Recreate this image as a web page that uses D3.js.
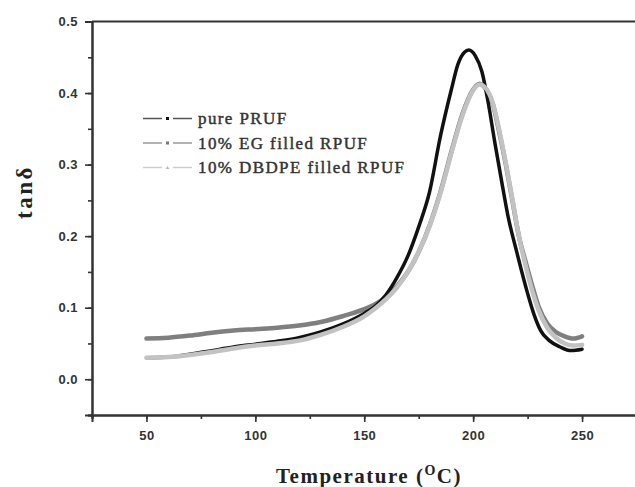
<!DOCTYPE html>
<html>
<head>
<meta charset="utf-8">
<script src="https://cdn.jsdelivr.net/npm/d3@7"></script>
<style>
  body { margin: 0; background: #fff; }
  svg { display: block; }
</style>
</head>
<body>
<div class="chart"></div>
<script>
// temperature (°C) and tan delta
const tempPure = [50, 60, 70, 80, 90, 100, 110, 120, 130, 140, 150, 155, 160, 165, 170, 175, 180, 185, 190, 193, 196, 198, 201, 204, 207, 210, 213, 216, 220, 225, 228, 231, 235, 240, 245, 250];
const tanPure  = [0.030, 0.031, 0.035, 0.040, 0.045, 0.049, 0.053, 0.058, 0.066, 0.077, 0.092, 0.102, 0.118, 0.142, 0.172, 0.213, 0.262, 0.340, 0.405, 0.440, 0.457, 0.460, 0.452, 0.430, 0.385, 0.330, 0.278, 0.228, 0.178, 0.120, 0.090, 0.068, 0.054, 0.045, 0.040, 0.042];

const tempEG = [50, 60, 70, 80, 90, 100, 110, 120, 130, 140, 150, 155, 160, 165, 170, 175, 180, 185, 190, 195, 200, 203, 206, 209, 212, 215, 218, 221, 224, 227, 230, 234, 238, 242, 246, 250];
const tanEG  = [0.057, 0.058, 0.061, 0.065, 0.068, 0.070, 0.072, 0.075, 0.080, 0.088, 0.098, 0.105, 0.115, 0.130, 0.150, 0.178, 0.215, 0.262, 0.318, 0.370, 0.405, 0.413, 0.405, 0.385, 0.345, 0.300, 0.250, 0.200, 0.165, 0.132, 0.102, 0.078, 0.066, 0.060, 0.057, 0.060];

const tempDB = [50, 60, 70, 80, 90, 100, 110, 120, 130, 140, 150, 155, 160, 165, 170, 175, 180, 185, 190, 195, 200, 203, 206, 209, 212, 215, 218, 221, 224, 227, 230, 234, 238, 242, 246, 250];
const tanDB  = [0.030, 0.031, 0.034, 0.038, 0.043, 0.047, 0.050, 0.054, 0.062, 0.073, 0.088, 0.099, 0.112, 0.128, 0.150, 0.178, 0.214, 0.260, 0.316, 0.368, 0.404, 0.412, 0.406, 0.386, 0.348, 0.302, 0.252, 0.200, 0.160, 0.125, 0.097, 0.072, 0.058, 0.050, 0.047, 0.048];

const seriesNames = ["pure PRUF", "10% EG filled RPUF", "10% DBDPE filled RPUF"];
const xTicks = [50, 100, 150, 200, 250];
const yTicks = [0.0, 0.1, 0.2, 0.3, 0.4, 0.5];

const outerWidth = 635;
const outerHeight = 487;
const margin = {top: 21.5, left: 92, bottom: 72, right: -1.5};
const width = outerWidth - margin.left - margin.right;
const height = outerHeight - margin.top - margin.bottom;

const svg = d3.select(".chart")
    .append("svg")
    .attr("width", outerWidth)
    .attr("height", outerHeight)
    .append("g")
    .attr("transform", `translate(${margin.left}, ${margin.top})`);

const xScale = d3.scaleLinear().domain([25, 275]).range([0, width]);
const yScale = d3.scaleLinear().domain([-0.05, 0.5]).range([height, 0]);

// minor ticks
const xMinor = d3.axisBottom(xScale).tickValues(d3.range(25, 276, 25)).tickSize(4).tickFormat("");
const yMinor = d3.axisLeft(yScale).tickValues(d3.range(-0.05, 0.51, 0.05)).tickSize(4).tickFormat("");

svg.append("g").attr("class", "axis minor")
    .attr("transform", `translate(0, ${height})`)
    .call(xMinor);
svg.append("g").attr("class", "axis minor").call(yMinor);

const xAxis = d3.axisBottom(xScale).tickValues(xTicks).tickSize(7).tickPadding(9);
const yAxis = d3.axisLeft(yScale).tickValues(yTicks).tickSize(7).tickPadding(7).tickFormat(d3.format(".1f"));

svg.append("g").attr("class", "axis x")
    .attr("transform", `translate(0, ${height})`)
    .call(xAxis);
svg.append("g").attr("class", "axis y").call(yAxis);

// top frame line
svg.append("line")
    .attr("x1", 0).attr("x2", width)
    .attr("y1", 0).attr("y2", 0)
    .attr("stroke", "#333").attr("stroke-width", 2);

svg.selectAll(".axis path").attr("stroke", "#333").attr("stroke-width", 2);
svg.selectAll(".axis line").attr("stroke", "#333").attr("stroke-width", 1.6);
svg.selectAll(".axis text")
    .attr("font-family", "Liberation Sans, Arial, sans-serif")
    .attr("font-weight", "bold")
    .attr("font-size", 13)
    .attr("letter-spacing", 0.5)
    .attr("fill", "#333");

const line = d3.line()
    .x(d => xScale(d[0]))
    .y(d => yScale(d[1]))
    .curve(d3.curveMonotoneX);

const curves = [
    {t: tempEG, v: tanEG, color: "#7f7f7f", w: 4.5},
    {t: tempPure, v: tanPure, color: "#111", w: 3.5},
    {t: tempDB, v: tanDB, color: "#c2c2c2", w: 4.5}
];

curves.forEach(c => {
    svg.append("path")
        .datum(d3.zip(c.t, c.v))
        .attr("fill", "none")
        .attr("stroke", c.color)
        .attr("stroke-width", c.w)
        .attr("stroke-linejoin", "round")
        .attr("stroke-linecap", "round")
        .attr("d", line);
});

// legend
const legendColors = ["#555", "#999", "#ccc"];
const markerColors = ["#111", "#777", "#bbb"];
const legend = svg.append("g").attr("transform", "translate(51, 97)");
seriesNames.forEach((name, i) => {
    const g = legend.append("g").attr("transform", `translate(0, ${i * 24.5})`);
    g.append("line").attr("x1", 0).attr("x2", 19).attr("y1", 0).attr("y2", 0)
        .attr("stroke", legendColors[i]).attr("stroke-width", 1.5);
    g.append("line").attr("x1", 30).attr("x2", 49).attr("y1", 0).attr("y2", 0)
        .attr("stroke", legendColors[i]).attr("stroke-width", 1.5);
    if (i < 2) {
        g.append("rect").attr("x", 23).attr("y", -1.5).attr("width", 3).attr("height", 3)
            .attr("fill", markerColors[i]);
    } else {
        g.append("path").attr("d", "M22.5,1.5L24.5,-1.5L26.5,1.5Z").attr("fill", markerColors[i]);
    }
    g.append("text")
        .attr("x", 55).attr("y", 5.5)
        .attr("font-family", "Liberation Serif, Times New Roman, serif")
        .attr("font-size", 17)
        .attr("letter-spacing", 1.4)
        .attr("fill", "#333")
        .attr("stroke", "#333")
        .attr("stroke-width", 0.45)
        .text(name);
});

// axis titles
svg.append("text")
    .attr("transform", `translate(${32 - margin.left}, ${192 - margin.top}) rotate(-90)`)
    .attr("text-anchor", "middle")
    .attr("font-family", "Liberation Serif, Times New Roman, serif")
    .attr("font-weight", "bold")
    .attr("font-size", 23)
    .attr("letter-spacing", 2.5)
    .attr("fill", "#222")
    .text("tanδ");

const xTitle = svg.append("text")
    .attr("x", 369 - margin.left)
    .attr("y", 483 - margin.top)
    .attr("text-anchor", "middle")
    .attr("font-family", "Liberation Serif, Times New Roman, serif")
    .attr("font-weight", "bold")
    .attr("font-size", 21)
    .attr("letter-spacing", 1.5)
    .attr("fill", "#222");
xTitle.append("tspan").text("Temperature (");
xTitle.append("tspan").attr("dy", -8).attr("font-size", 14).text("O");
xTitle.append("tspan").attr("dy", 8).text("C)");
</script>
</body>
</html>
